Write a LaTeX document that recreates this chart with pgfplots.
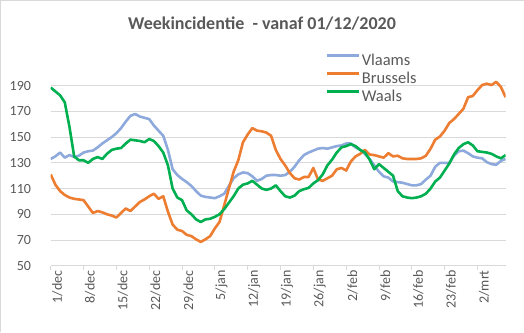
\documentclass[border=0pt]{standalone}
\usepackage{fontspec}
\setmainfont{Carlito}
\usepackage{pgfplots}
\usepackage{pgfplotstable}
\pgfplotsset{compat=1.18}
\definecolor{vl}{HTML}{8EA9DB}
\definecolor{br}{HTML}{ED7D31}
\definecolor{wa}{HTML}{00B050}
\definecolor{grd}{HTML}{D9D9D9}
\definecolor{txt}{HTML}{595959}
\pgfplotstableread{
d V B W
0 133 121 188.5
1 135 113 185.5
2 138 108 182.5
3 134 105 177
4 136 103 158
5 134.5 102 135
6 135.5 101.5 132
7 138 101 132
8 139 96 130
9 139.5 91 133
10 142 92.5 134.5
11 145 91.5 133
12 147.5 90 137
13 150 89 140
14 153 87.5 141
15 157 91 141.5
16 162 94.5 145
17 166.5 92.5 148
18 168 96 147.5
19 166 99.5 147
20 165 101.5 146
21 164 104 148.5
22 159 106 147
23 155 102 143
24 151 104 138
25 140 92 128
26 125 82 110
27 120.5 78 103
28 117.5 77 101
29 115 74 93
30 112 73 90
31 108 70.5 86
32 104.5 68.5 84
33 103.5 70.5 86
34 103 73 86.5
35 102.5 79 88
36 104 84 90
37 106 97 94
38 112 110 99
39 118 123 104
40 121 132 110
41 122.5 146 113
42 122 152 114
43 119.5 157 116
44 116 155 113
45 117.5 154.5 110
46 120 153.5 109
47 120.5 151 110
48 120.5 140 112.5
49 120 133 108
50 120.5 128 104
51 123 122 103
52 127 118 104.5
53 132 117 108
54 136 119 109.5
55 138 119 110.5
56 139.5 126 114
57 141 117 116.5
58 141.5 116 121
59 141 118 128
60 142 120 132.5
61 143 125 138
62 143.5 126 142
63 145 124 143
64 145 131 144.5
65 142 135 143
66 140 137 140
67 137 140 138
68 133 136.5 132.5
69 128 136 125
70 123 135 129
71 119.5 134 126
72 118.5 137.5 123
73 115.5 135 120
74 115 135.5 108
75 114.5 133.5 104
76 113.5 133 103
77 112.5 133 102.5
78 112.5 133 103
79 113.5 133.5 104
80 117 135.5 106
81 120 141 110
82 127 148 115.5
83 130 150.5 118.5
84 130 155 124
85 130 161 129.5
86 135.5 164 136.5
87 139 168 141.5
88 139.5 172 144.5
89 137.5 181 146
90 135 182 143.5
91 134 186.5 139
92 133.5 190.5 138.5
93 130.5 191.5 138
94 129 190.5 137
95 128.5 193 135
96 131.5 189 133.5
97 133 181 136
}\data
\begin{document}
\begin{tikzpicture}[x=1pt,y=1pt]
\path[use as bounding box] (0,0) rectangle (524,332);
\draw[grd, line width=1pt] (0.5,0) -- (0.5,331.5) -- (524,331.5);
\node[font=\fontsize{18}{20}\selectfont\bfseries, text=txt, anchor=base] at (262,302) {Weekincidentie\ \ - vanaf 01/12/2020};
\begin{axis}[
  at={(50.7pt,66.3pt)}, anchor=south west,
  scale only axis, width=454.9pt, height=192.9pt,
  xmin=0, xmax=97, ymin=50, ymax=200,
  axis line style={draw=none},
  xtick={0,7,...,91},
  xticklabels={1/dec,8/dec,15/dec,22/dec,29/dec,5/jan,12/jan,19/jan,26/jan,2/feb,9/feb,16/feb,23/feb,2/mrt},
  ytick={50,70,...,190},
  ymajorgrids, grid style={grd, line width=0.8pt},
  xtick pos=bottom, ytick pos=left,
  tick align=outside, major tick length=4.5pt,
  xtick style={grd, line width=0.8pt},
  ytick style={draw=none},
  /pgf/number format/assume math mode=true,
  ticklabel style={font=\fontsize{14}{16}\selectfont, text=txt},
  xticklabel style={rotate=90, anchor=east, inner sep=0pt, yshift=-6.5pt},
  yticklabel style={anchor=east, inner sep=0pt, xshift=-15pt},
  legend style={at={(0.603,1.108)}, anchor=north west, draw=none, fill=none,
    font=\fontsize{16.5}{18}\selectfont, text=txt, inner sep=0pt, row sep=3pt,
    nodes={inner sep=2pt, text height=11pt, text depth=0pt}},
  legend cell align=left,
  legend image code/.code={\draw[#1] (0pt,4pt) -- (32pt,4pt);},
  every axis plot/.append style={line width=2.6pt, line join=round, no markers},
]
\addplot[vl] table[x=d, y=V] {\data};
\addplot[br] table[x=d, y=B] {\data};
\addplot[wa] table[x=d, y=W] {\data};
\legend{Vlaams, Brussels, Waals}
\end{axis}
\end{tikzpicture}
\end{document}
